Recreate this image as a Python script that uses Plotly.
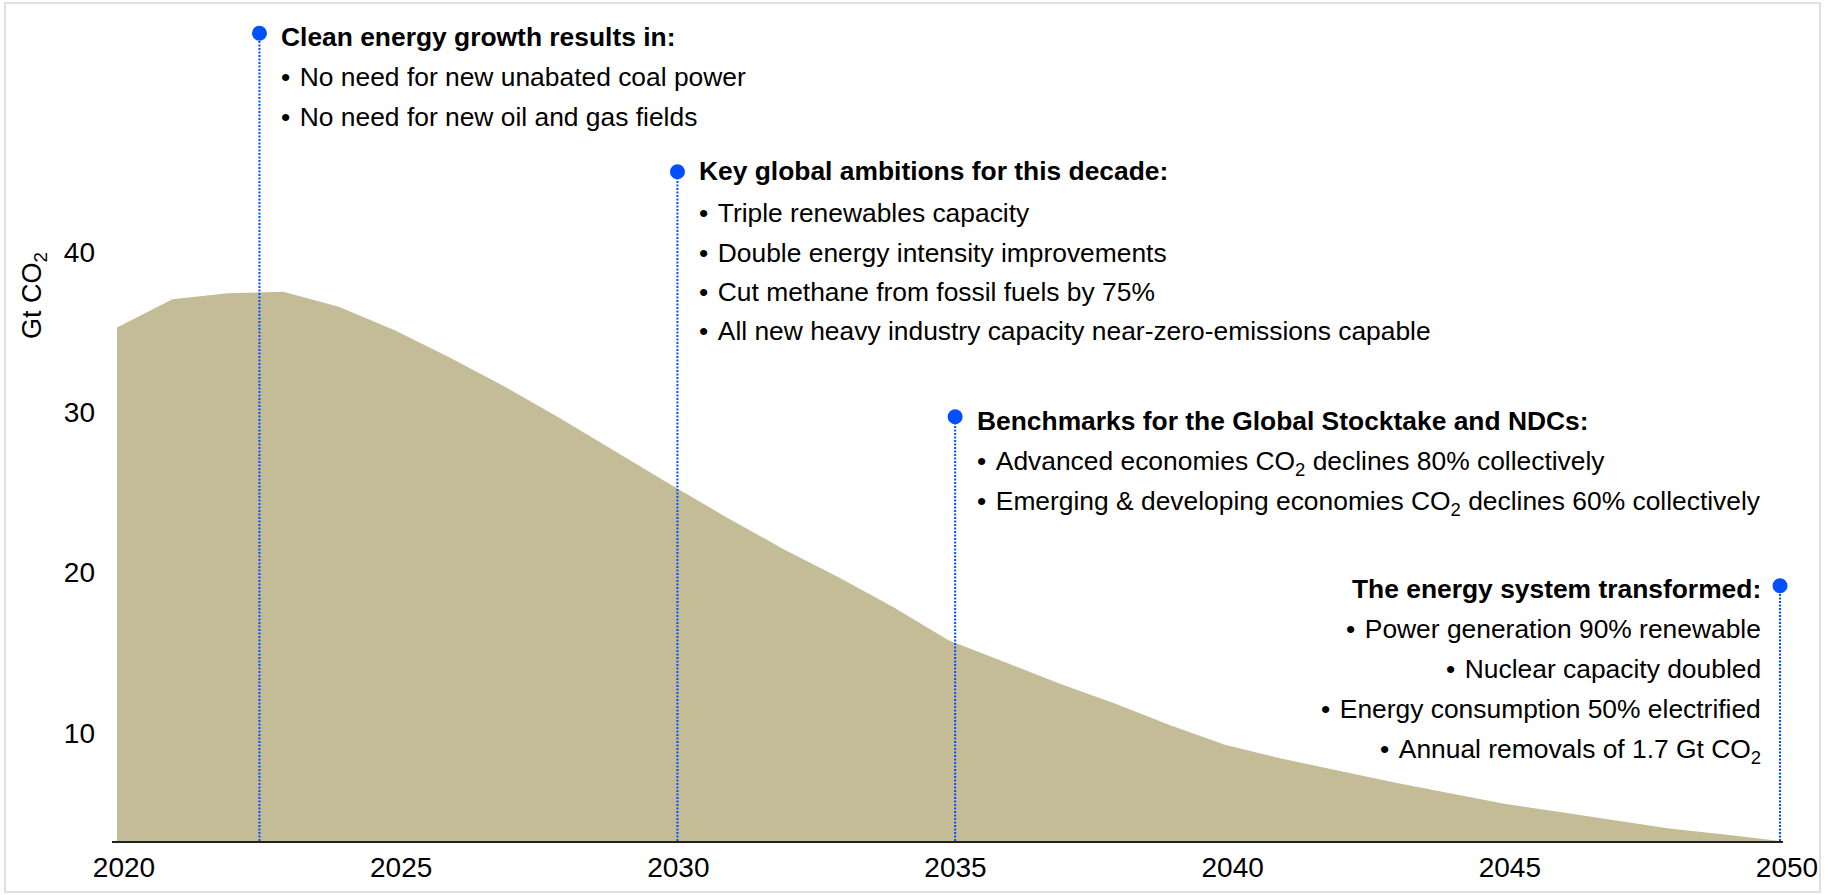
import plotly.graph_objects as go

# ---------------- data ----------------
years = list(range(2020, 2051))
emissions = [35.3, 37.07, 37.45, 37.54, 36.60, 35.15, 33.44, 31.61, 29.63, 27.55,
             25.47, 23.45, 21.51, 19.74, 17.86, 15.78, 14.43, 13.08, 11.83, 10.47,
             9.23, 8.39, 7.66, 6.93, 6.25, 5.58, 5.06, 4.54, 4.02, 3.65, 3.24]

x_tickvals = [2020, 2025, 2030, 2035, 2040, 2045, 2050]
y_tickvals = [10, 20, 30, 40]

milestone_x = [2022.57, 2030.11, 2035.12, 2050]
milestone_y = [53.68, 45.03, 29.73, 19.18]
milestone_titles = [
    "Clean energy growth results in:",
    "Key global ambitions for this decade:",
    "Benchmarks for the Global Stocktake and NDCs:",
    "The energy system transformed:",
]
milestone_bullets = [
    ["No need for new unabated coal power",
     "No need for new oil and gas fields"],
    ["Triple renewables capacity",
     "Double energy intensity improvements",
     "Cut methane from fossil fuels by 75%",
     "All new heavy industry capacity near-zero-emissions capable"],
    ["Advanced economies CO<sub>2</sub> declines 80% collectively",
     "Emerging & developing economies CO<sub>2</sub> declines 60% collectively"],
    ["Power generation 90% renewable",
     "Nuclear capacity doubled",
     "Energy consumption 50% electrified",
     "Annual removals of 1.7 Gt CO<sub>2</sub>"],
]
milestone_right_aligned = [False, False, False, True]

# ---------------- layout constants ----------------
W, H = 1831, 895
PLOT_L, PLOT_R, PLOT_T, PLOT_B = 112, 1783, 10, 841
X_RANGE = [2019.91, 2050.054]
Y_MIN = 3.24
Y_RANGE = [Y_MIN, Y_MIN + (PLOT_B - PLOT_T) / 16.013]

FONT = "Liberation Sans, Arial, sans-serif"
AREA_COLOR = "#C4BC96"
BLUE = "#0050FF"
TEXT_SIZE = 26.4
BULLET = "\u2022\u00a0\u200a"

# text placement (pixels below each marker, to the visual centre of each line)
TITLE_DY = [4.5, 0.0, 4.3, 3.6]
BULLET_DY0 = [44.5, 42.0, 45.0, 43.3]
LINE_GAP = [40.0, 39.2, 40.0, 40.0]
HALF_LINE = 17.5          # distance from annotation top to visual centre of a line
LEFT_XSHIFT = 20
RIGHT_XSHIFT = -17.5


def px_to_paper_x(px):
    return (px - PLOT_L) / (PLOT_R - PLOT_L)


def px_to_paper_y(py):
    return (PLOT_B - py) / (PLOT_B - PLOT_T)


fig = go.Figure()

fig.add_trace(go.Scatter(
    x=years, y=emissions, mode="lines", fill="tozeroy",
    line=dict(color=AREA_COLOR, width=0), fillcolor=AREA_COLOR,
    hoverinfo="skip", showlegend=False,
))

for mx, my in zip(milestone_x, milestone_y):
    fig.add_trace(go.Scatter(
        x=[mx, mx], y=[Y_MIN, my], mode="lines",
        line=dict(color=BLUE, width=2, dash="2px,1.5px"),
        hoverinfo="skip", showlegend=False, cliponaxis=False,
    ))

fig.add_trace(go.Scatter(
    x=milestone_x, y=milestone_y, mode="markers",
    marker=dict(color=BLUE, size=15, line=dict(width=0)),
    hoverinfo="skip", showlegend=False, cliponaxis=False,
))

for i, (mx, my) in enumerate(zip(milestone_x, milestone_y)):
    right = milestone_right_aligned[i]
    lines = [f"<b>{milestone_titles[i]}</b>"] + [BULLET + b for b in milestone_bullets[i]]
    for k, t in enumerate(lines):
        dy = TITLE_DY[i] if k == 0 else BULLET_DY0[i] + LINE_GAP[i] * (k - 1)
        fig.add_annotation(
            x=mx, y=my, xref="x", yref="y", text=t, showarrow=False,
            xanchor="right" if right else "left", yanchor="top",
            align="right" if right else "left",
            xshift=RIGHT_XSHIFT if right else LEFT_XSHIFT,
            yshift=-(dy - HALF_LINE),
            font=dict(family=FONT, size=TEXT_SIZE, color="#000000"),
        )

# y-axis title
fig.add_annotation(
    xref="paper", yref="paper", x=px_to_paper_x(34), y=px_to_paper_y(296),
    text="Gt CO<sub>2</sub>", textangle=-90, showarrow=False,
    xanchor="center", yanchor="middle",
    font=dict(family=FONT, size=27, color="#000000"),
)

# outer frame
fig.add_shape(
    type="rect", xref="paper", yref="paper",
    x0=px_to_paper_x(5), x1=px_to_paper_x(1820),
    y0=px_to_paper_y(892), y1=px_to_paper_y(3),
    line=dict(color="#E0E0E0", width=2), fillcolor="rgba(0,0,0,0)", layer="below",
)

fig.update_layout(
    width=W, height=H,
    margin=dict(l=PLOT_L, r=W - PLOT_R, t=PLOT_T, b=H - PLOT_B, pad=0),
    paper_bgcolor="white", plot_bgcolor="white",
    font=dict(family=FONT, color="#000000"),
    showlegend=False,
    xaxis=dict(
        range=X_RANGE, tickvals=x_tickvals, ticktext=[str(v) for v in x_tickvals],
        showgrid=False, zeroline=False, showline=True, linecolor="#222222", linewidth=2,
        ticks="", tickfont=dict(family=FONT, size=28, color="#000000"),
        ticklabelshift=7, fixedrange=True,
    ),
    yaxis=dict(
        range=Y_RANGE, tickvals=y_tickvals, showgrid=False, zeroline=False,
        showline=False, ticks="", tickfont=dict(family=FONT, size=28, color="#000000"),
        ticklabelstandoff=16, fixedrange=True,
    ),
)

fig.write_html("out.html", post_script="document.body.style.margin='0';",
               config={"displayModeBar": False})
